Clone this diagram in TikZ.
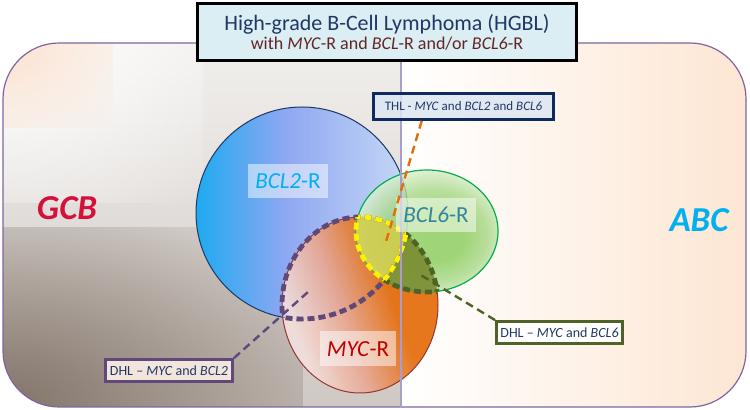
\documentclass[tikz,border=0pt]{standalone}
\usepackage{fontspec}
\setmainfont{Carlito}
\usetikzlibrary{fadings}

\definecolor{gcbdark}{HTML}{827469}
\definecolor{gcbtop}{HTML}{F1EFED}
\definecolor{gcbbottom}{HTML}{CFC8C3}
\definecolor{gcbpeach}{HTML}{FBE1CE}
\definecolor{abcpeach}{HTML}{FDE6D3}
\definecolor{framecol}{HTML}{8064A2}
\definecolor{divcol}{HTML}{A99DCD}
\definecolor{titlefill}{HTML}{DBEEF4}
\definecolor{titlenavy}{HTML}{1F3864}
\definecolor{titlered}{HTML}{632523}
\definecolor{thlfill}{HTML}{DCE6F2}
\definecolor{thlnavy}{HTML}{0F2A5E}
\definecolor{thlorange}{HTML}{E46C0A}
\definecolor{dhltwopurple}{HTML}{5F497A}
\definecolor{dhltwofill}{HTML}{F2E5DC}
\definecolor{dhlsixolive}{HTML}{4F6228}
\definecolor{bcltwoL}{HTML}{1EAAF0}
\definecolor{bcltwoM}{HTML}{8EA7F2}
\definecolor{bcltwoR}{HTML}{C6D8F6}
\definecolor{bcltwoedge}{HTML}{1F3864}
\definecolor{mycorange}{HTML}{E46C0A}
\definecolor{mycsalmon}{HTML}{E8A690}
\definecolor{mycpink}{HTML}{F3E0DE}
\definecolor{mycedge}{HTML}{953735}
\definecolor{bclsixin}{HTML}{88CC58}
\definecolor{bclsixmid}{HTML}{A8D888}
\definecolor{bclsixout}{HTML}{DCEFCE}
\definecolor{bclsixedge}{HTML}{00B050}
\definecolor{triplefill}{HTML}{CFCF52}
\definecolor{olivefill}{HTML}{7A8F35}
\definecolor{bcltwotext}{HTML}{00B0F0}
\definecolor{bclsixtext}{HTML}{31859C}
\definecolor{myctext}{HTML}{C00000}
\definecolor{gcbred}{HTML}{D5103A}
\definecolor{abcblue}{HTML}{00B0F0}

% BCL2 circle, cyan to lilac
\pgfdeclarehorizontalshading{bcltwoshade}{100bp}{color(0bp)=(bcltwoL); color(25bp)=(bcltwoL);
  color(46bp)=(bcltwoM); color(75bp)=(bcltwoR); color(100bp)=(bcltwoR)}
% MYC ellipse, pink to orange
\pgfdeclareverticalshading{mycshade}{100bp}{color(0bp)=(mycpink); color(28bp)=(mycpink);
  color(44bp)=(mycsalmon); color(60bp)=(mycorange); color(100bp)=(mycorange)}
% BCL6 ellipse, green core
\pgfdeclareradialshading{bclsixshade}{\pgfpoint{4bp}{-3bp}}{color(0bp)=(bclsixin);
  color(10bp)=(bclsixin); color(19bp)=(bclsixmid); color(27bp)=(bclsixout); color(50bp)=(bclsixout)}
% glows in the corners of the GCB half
\pgfdeclareradialshading{glowshade}{\pgfpointorigin}{color(0bp)=(white);
  color(35bp)=(black); color(50bp)=(black)}
\pgfdeclarefading{cornerglow}{\pgfuseshading{glowshade}}

% the three sets
\newcommand{\shapeBCLtwo}{(302,213) circle [radius=106]}
\newcommand{\shapeMYC}{(360,305) ellipse [x radius=78, y radius=88]}
\newcommand{\shapeBCLsix}{(427,231) ellipse [x radius=71, y radius=61]}

\tikzset{
  font=\fontsize{7}{8.5}\selectfont,
  % Outer frame
  frame/.style={draw=framecol, line width=0.6pt},
  % Line between GCB and ABC
  divider/.style={draw=divcol, line width=1pt},
  % Dashed leaders
  leader/.style={line width=1.2pt, dash pattern=on 4pt off 2.5pt},
  % Dashed outlines of overlaps (half is clipped away)
  rim/.style={line width=2.4pt, dash pattern=on 3.5pt off 2pt},
  % Title box
  titlebox/.style={draw=black, line width=1.5pt, fill=titlefill, align=center,
    inner sep=0pt, minimum width=189.5pt, minimum height=28.5pt},
  % Callout boxes
  callout/.style={draw, line width=1.4pt, text=titlenavy, inner sep=0pt,
    minimum height=11pt},
  % Set labels
  setlabel/.style={fill=white, fill opacity=0.5, text opacity=1, inner sep=0pt,
    minimum width=40pt, minimum height=17pt, font=\fontsize{11.5}{13}\selectfont},
  % Cell of origin
  origin/.style={font=\fontsize{17.5}{20}\selectfont\bfseries\itshape},
}

\begin{document}
\begin{tikzpicture}[x=0.5pt, y=-0.5pt]
  \useasboundingbox (0,0) rectangle (750,410);

  % background
  \begin{scope}
    \clip[rounded corners=28pt] (3,43) rectangle (746,407);
    \shade[top color=gcbtop, bottom color=gcbbottom] (3,43) rectangle (401,407);
    \fill[gcbdark, path fading=cornerglow] (-297,227) rectangle (303,587);
    \fill[white, path fading=cornerglow] (-197,-117) rectangle (203,203);
    \fill[gcbpeach, path fading=cornerglow] (-107,-42) rectangle (113,128);
    \shade[left color=white, right color=abcpeach] (401,43) rectangle (746,407);
  \end{scope}
  \draw[frame, rounded corners=28pt] (3,43) rectangle (746,407);

  % sets
  \shade[shading=bcltwoshade] \shapeBCLtwo;
  \draw[bcltwoedge, line width=0.5pt] \shapeBCLtwo;
  \shade[shading=mycshade, shading angle=-70, opacity=0.92] \shapeMYC;
  \draw[mycedge, line width=0.5pt] \shapeMYC;
  \shade[shading=bclsixshade, opacity=0.8] \shapeBCLsix;
  \draw[bclsixedge, line width=0.6pt] \shapeBCLsix;

  % overlaps
  \begin{scope}
    \clip \shapeBCLtwo;
    \clip \shapeMYC;
    \fill[triplefill, opacity=0.9] \shapeBCLsix;
  \end{scope}
  \begin{scope}[even odd rule]
    \clip (0,0) rectangle (750,410) \shapeBCLtwo;
    \clip \shapeMYC;
    \fill[olivefill, opacity=0.9] \shapeBCLsix;
  \end{scope}

  % MYC and BCL2
  \begin{scope}
    \clip \shapeBCLtwo;
    \draw[rim, dhltwopurple] \shapeMYC;
  \end{scope}
  \begin{scope}
    \clip \shapeMYC;
    \draw[rim, dhltwopurple] \shapeBCLtwo;
  \end{scope}
  % MYC and BCL6
  \begin{scope}[even odd rule]
    \clip (0,0) rectangle (750,410) \shapeBCLtwo;
    \clip \shapeMYC;
    \draw[rim, dhlsixolive] \shapeBCLsix;
  \end{scope}
  \begin{scope}[even odd rule]
    \clip (0,0) rectangle (750,410) \shapeBCLtwo;
    \clip \shapeBCLsix;
    \draw[rim, dhlsixolive] \shapeMYC;
  \end{scope}
  % all three
  \begin{scope}
    \clip \shapeMYC;
    \clip \shapeBCLsix;
    \draw[rim, yellow] \shapeBCLtwo;
  \end{scope}
  \begin{scope}
    \clip \shapeBCLtwo;
    \clip \shapeBCLsix;
    \draw[rim, yellow] \shapeMYC;
  \end{scope}
  \begin{scope}
    \clip \shapeBCLtwo;
    \clip \shapeMYC;
    \draw[rim, yellow] \shapeBCLsix;
  \end{scope}

  \coordinate (divtop) at (401,62);
  \coordinate (divbot) at (401,407);
  \draw[divider] (divtop) -- (divbot);

  \node[setlabel, text=bcltwotext] (lblbcltwo) at (288,181) {\textit{BCL2}-R};
  \node[setlabel, text=bclsixtext] (lblbclsix) at (436,215) {\textit{BCL6}-R};
  \node[setlabel, text=myctext, minimum width=38pt, minimum height=17.5pt] (lblmyc)
    at (358,349) {\textit{MYC}-R};

  \node[origin, text=gcbred] (gcb) at (67,208) {GCB};
  \node[origin, text=abcblue] (abc) at (699,220) {ABC};

  \node[titlebox] (title) at (387,32) {%
    {\fontsize{11}{13}\selectfont\color{titlenavy}High-grade B-Cell Lymphoma (HGBL)}\\[1pt]
    {\fontsize{9}{11}\selectfont\color{titlered}with \textit{MYC}-R and \textit{BCL}-R
      and/or \textit{BCL6}-R}};

  \node[callout, draw=thlnavy, fill=thlfill, fill opacity=0.85, text opacity=1,
    minimum width=90pt, minimum height=13pt, font=\fontsize{6.5}{8}\selectfont]
    (thl) at (463.5,106.5) {THL - \textit{MYC} and \textit{BCL2} and \textit{BCL6}};
  \node[callout, draw=dhltwopurple, fill=dhltwofill, minimum width=63.5pt]
    (dhltwo) at (169,370.5) {DHL -- \textit{MYC} and \textit{BCL2}};
  \node[callout, draw=dhlsixolive, fill=white, minimum width=63pt]
    (dhlsix) at (559.5,332.5) {DHL -- \textit{MYC} and \textit{BCL6}};

  \coordinate (thltip) at (385,245);
  \coordinate (dhltwotip) at (308,292);
  \coordinate (dhlsixtip) at (419,274);
  \draw[leader, thlorange] (thl.199) -- (thltip);
  \draw[leader, dhltwopurple] (dhltwo.north east) -- (dhltwotip);
  \draw[leader, dhlsixolive] (dhlsix.north west) -- (dhlsixtip);
\end{tikzpicture}
\end{document}
